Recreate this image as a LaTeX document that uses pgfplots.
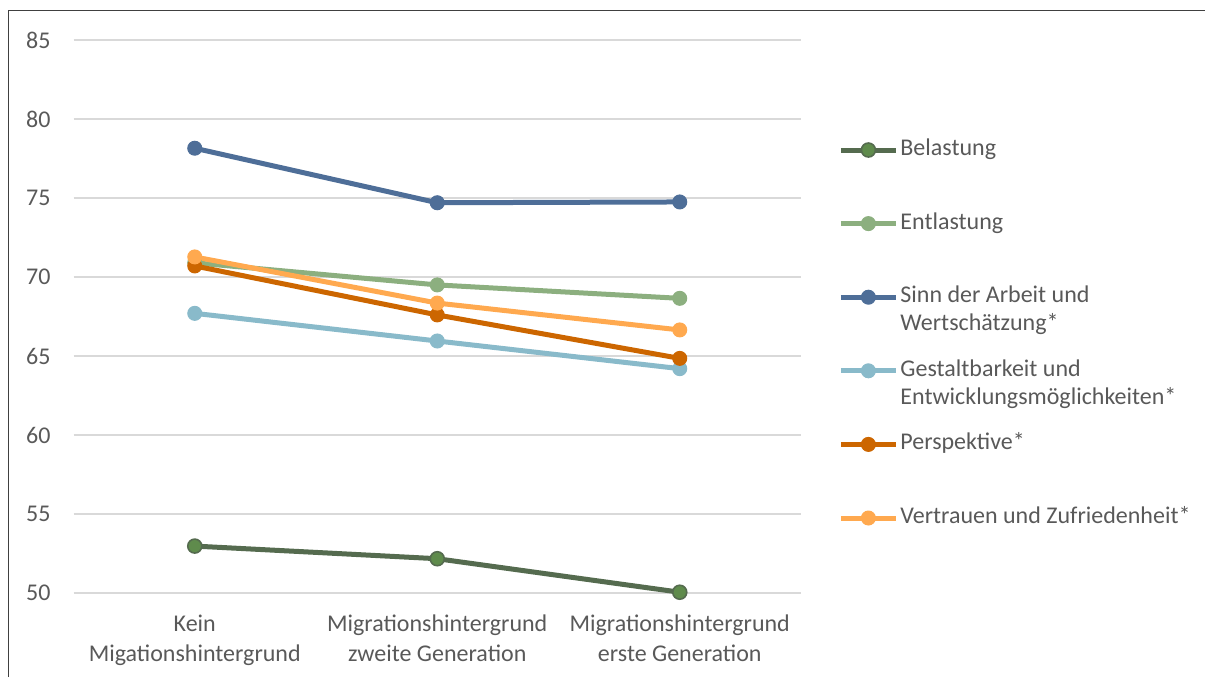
\documentclass[border=0pt]{standalone}
\usepackage{fontspec}
\setmainfont{Carlito}
\usepackage{pgfplots}
\pgfplotsset{compat=1.18}

\definecolor{textcol}{HTML}{595959}
\definecolor{gridcol}{HTML}{D9D9D9}
\definecolor{framecol}{HTML}{404040}
\definecolor{belline}{HTML}{556B4F}
\definecolor{belfill}{HTML}{5F8B4C}
\definecolor{entl}{HTML}{8CAF7F}
\definecolor{sinn}{HTML}{4E6E98}
\definecolor{gest}{HTML}{89BACA}
\definecolor{persp}{HTML}{CC6600}
\definecolor{vertr}{HTML}{FFA94F}

\newcommand{\twoline}[2]{\begin{tabular}[t]{@{}l@{}}#1\\#2\end{tabular}}

\begin{document}
\begin{tikzpicture}
\path[use as bounding box] (0,0) rectangle (602.5pt,338.5pt);
% outer frame (top and left edge)
\draw[framecol, line width=0.8pt] (4.2pt,0) -- (4.2pt,333.3pt) -- (602.5pt,333.3pt);
\begin{axis}[
  at={(36.75pt,42pt)}, anchor=south west,
  scale only axis, width=363.75pt, height=276.5pt,
  xmin=-0.5, xmax=2.5, ymin=50, ymax=85,
  xtick={0,1,2},
  xticklabels={Kein\\Migationshintergrund, Migrationshintergrund\\zweite Generation, Migrationshintergrund\\erste Generation},
  ytick={50,55,...,85},
  ymajorgrids, grid style={gridcol, line width=0.75pt},
  axis line style={draw=none},
  major tick length=0pt,
  tick label style={font=\fontsize{12}{15}\selectfont, text=textcol},
  xticklabel style={align=center, yshift=-7.5pt},
  yticklabel style={xshift=-8pt},
  /pgf/number format/assume math mode=true,
  every axis plot/.append style={line width=2.5pt, mark=*, mark size=3.5pt},
  legend image code/.code={\draw[#1, mark repeat=2, mark phase=2] plot coordinates {(0pt,0pt) (13.75pt,0pt) (27.5pt,0pt)};},
  legend cell align=left,
  legend style={at={(1,1)}, anchor=north west, xshift=18.5pt, yshift=-48.8pt,
    draw=none, fill=none, inner sep=0pt, row sep=24.8pt, column sep=0pt,
    font=\fontsize{12}{14}\selectfont, text=textcol,
    nodes={text height=8.2pt, text depth=2.8pt, inner xsep=1pt, inner ysep=0.5pt}},
]
\addplot[belline, mark options={fill=belfill, draw=belline, line width=0.8pt}]
  coordinates {(0,52.97) (1,52.17) (2,50.05)};
\addlegendentry{Belastung}
\addplot[entl, mark options={fill=entl, draw=entl, line width=0.5pt}]
  coordinates {(0,70.9) (1,69.5) (2,68.65)};
\addlegendentry{Entlastung}
\addplot[sinn, mark options={fill=sinn, draw=sinn, line width=0.5pt}]
  coordinates {(0,78.15) (1,74.7) (2,74.75)};
\addlegendentry{\twoline{Sinn der Arbeit und}{Wertschätzung*}}
\addplot[gest, mark options={fill=gest, draw=gest, line width=0.5pt}]
  coordinates {(0,67.7) (1,65.95) (2,64.2)};
\addlegendentry{\twoline{Gestaltbarkeit und}{Entwicklungsmöglichkeiten*}}
\addplot[persp, mark options={fill=persp, draw=persp, line width=0.5pt}]
  coordinates {(0,70.7) (1,67.6) (2,64.85)};
\addlegendentry{Perspektive*}
\addplot[vertr, mark options={fill=vertr, draw=vertr, line width=0.5pt}]
  coordinates {(0,71.27) (1,68.35) (2,66.65)};
\addlegendentry{Vertrauen und Zufriedenheit*}
\end{axis}
\end{tikzpicture}
\end{document}
